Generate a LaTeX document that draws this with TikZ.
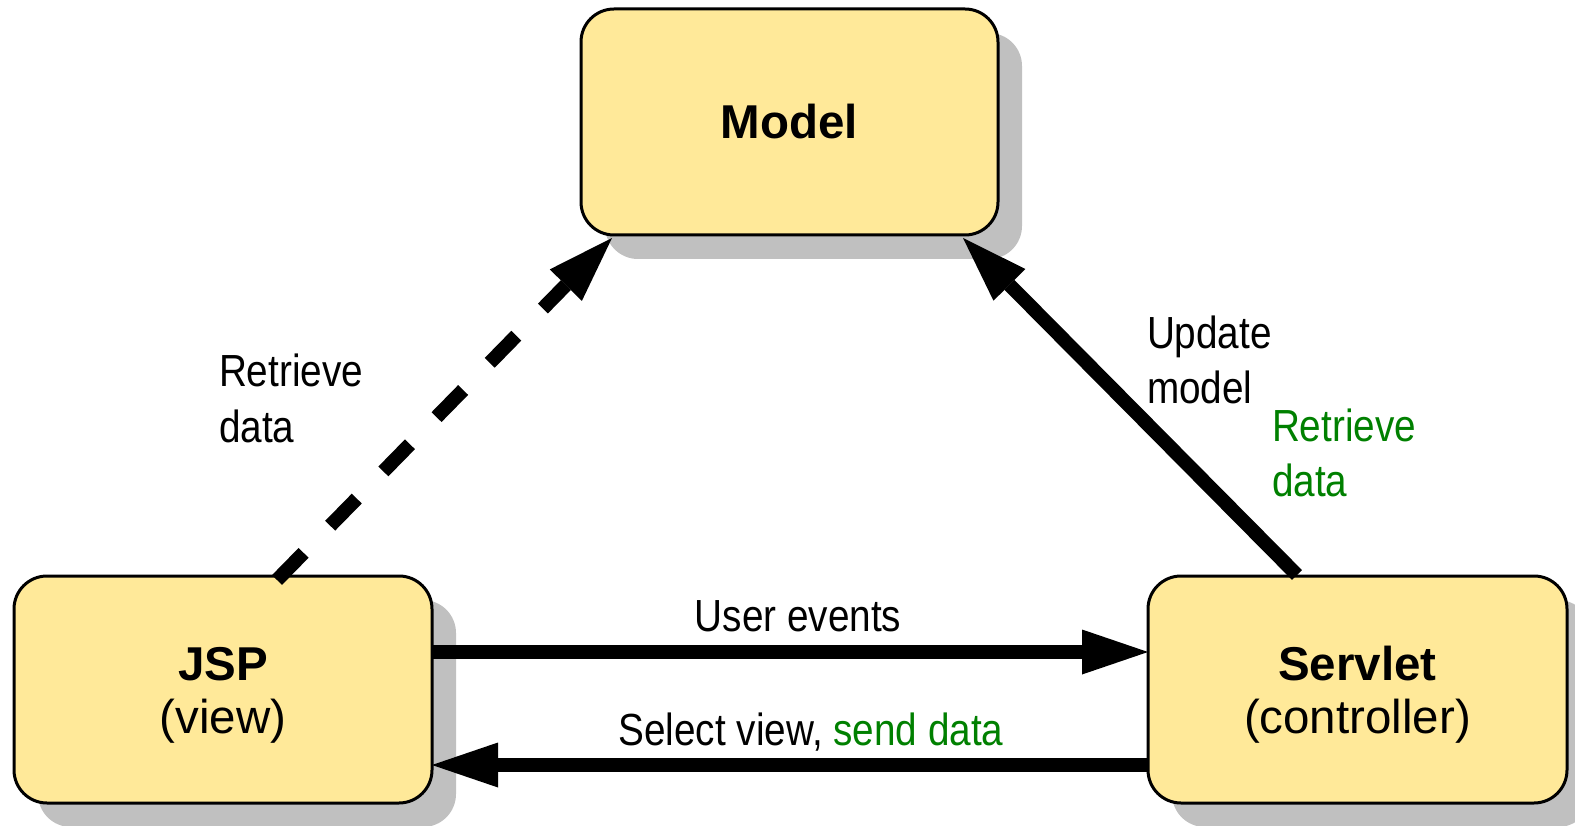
\documentclass[tikz,border=0pt]{standalone}
\usepackage{fontspec}
\setmainfont{Liberation Sans}
\newfontfamily\narrowfont[FakeStretch=0.86]{Liberation Sans}
\usetikzlibrary{arrows.meta,shadows}
\definecolor{boxfill}{HTML}{FFE999}
\definecolor{shadowgray}{HTML}{C0C0C0}
\definecolor{labelgreen}{HTML}{008000}
\begin{document}
\begin{tikzpicture}[x=1pt,y=-1pt,
  box/.style={draw=black, line width=3pt, fill=boxfill, rounded corners=33pt,
    inner sep=0pt, outer sep=0pt, align=center,
    font=\fontsize{47.5}{53}\selectfont,
    general shadow={draw=none, fill=shadowgray, shadow xshift=24pt, shadow yshift=-24pt}},
  twoline/.style={text height=98pt, text depth=10pt},
  lbl/.style={inner sep=0pt, outer sep=0pt, font=\narrowfont\fontsize{45}{55}\selectfont, align=left},
  flow/.style={line width=14pt, -{Triangle[length=66pt,width=45pt,line width=0pt]}},
]
\useasboundingbox[fill=white] (0,0) rectangle (1575,826);

\node[box, minimum width=417pt, minimum height=226pt] (model) at (789.5,122) {\textbf{Model}};
\node[box, twoline, minimum width=418pt, minimum height=227pt] (jsp) at (223,689.5) {\textbf{JSP}\\(view)};
\node[box, twoline, minimum width=419pt, minimum height=227pt] (servlet) at (1357.5,689.5) {\textbf{Servlet}\\(controller)};

\coordinate (dstart) at ([xshift=54pt,yshift=-4pt]jsp.north);
\coordinate (dend) at ([xshift=31pt,yshift=-3pt]model.south west);
\coordinate (ustart) at ([xshift=-60.5pt,yshift=1pt]servlet.north);
\coordinate (uend) at ([xshift=-35pt,yshift=-3pt]model.south east);

\draw[flow, dash pattern=on 38pt off 38pt] (dstart) -- (dend);
\draw[flow] (ustart) -- (uend);
\draw[flow] ([yshift=37.5pt]jsp.east) -- ([yshift=37.5pt]servlet.west);
\draw[flow] ([yshift=-75.5pt]servlet.west) -- ([yshift=-75.5pt]jsp.east);

\node[lbl, anchor=base] (ue) at (798,631) {User events};
\node[lbl, anchor=base] (sv) at (811,745) {Select view, \textcolor{labelgreen}{send data}};
\node[lbl, anchor=base west] (rd1) at (219,442) {Retrieve\\data};
\node[lbl, anchor=base west] (um) at (1147,403) {Update\\model};
\node[lbl, anchor=base west, text=labelgreen] (rd2) at (1272,496) {Retrieve\\data};
\end{tikzpicture}
\end{document}
